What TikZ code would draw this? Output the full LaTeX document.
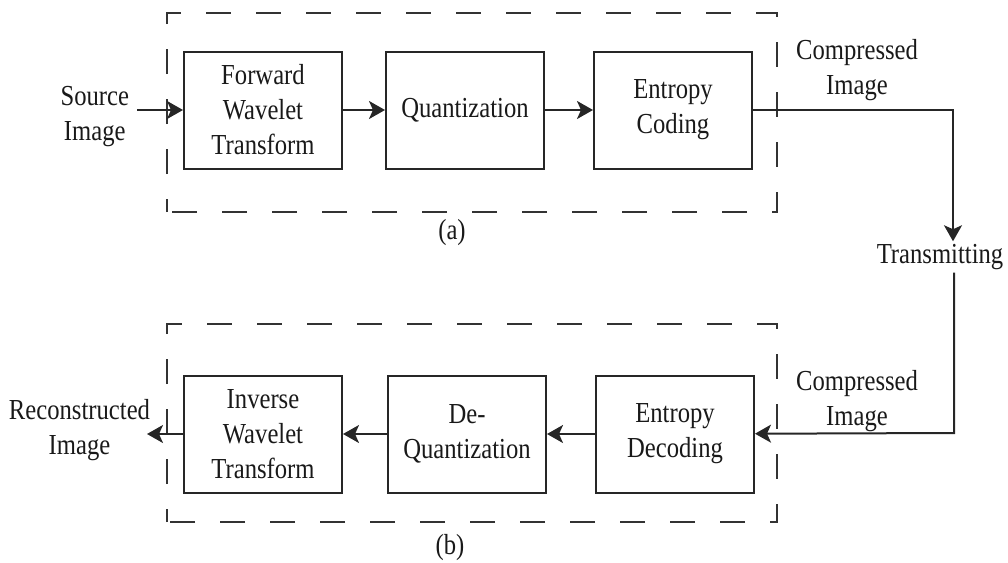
\documentclass[tikz,border=0pt]{standalone}
\usepackage{fontspec}
\setmainfont{Liberation Serif}[FakeStretch=0.85]
\usetikzlibrary{positioning}
\usetikzlibrary{arrows.meta}

\begin{document}
\begin{tikzpicture}[x=1pt,y=-1pt,>={Stealth[length=16pt,width=18pt,inset=4pt]},
		line width=2pt,draw=black!85,
		block/.style={rectangle,draw=black!85,minimum width=158pt,minimum height=117pt,
			inner sep=3pt,align=center,text=black!90,font=\fontsize{29}{35}\selectfont},
		txt node/.style={align=center,inner sep=2pt,text=black!90,font=\fontsize{29}{35}\selectfont},
		group box/.style={draw=black!80,line width=2.5pt,dash pattern=on 25pt off 25pt,dash phase=12pt}]

	\useasboundingbox (0,0) rectangle (1008,562);

	% dashed groups
	\draw[group box] (167,212) rectangle (777,13);
	\draw[group box] (167,522) rectangle (777,324);

	% (a) compression
	\node[block] (fwt) at (263,110) {Forward\\Wavelet\\Transform};
	\node[block] (qnt) [right=42pt of fwt] {Quantization};
	\node[block] (enc) [right=48pt of qnt] {Entropy\\Coding};

	% (b) decompression
	\node[block] (inv) [below=205pt of fwt] {Inverse\\Wavelet\\Transform};
	\node[block] (deq) [right=44pt of inv] {De-\\Quantization};
	\node[block] (dec) [right=48pt of deq] {Entropy\\Decoding};

	% outside texts
	\node[txt node] (src) [left=51pt of fwt,yshift=-7pt] {Source\\Image};
	\node[txt node] (rec) [left=30pt of inv,yshift=4pt] {Reconstructed\\Image};
	\node[txt node] (cmp top) at (857,70) {Compressed\\Image};
	\node[txt node] (trn) at (940,257) {Transmitting};
	\node[txt node] (cmp bot) at (857,401) {Compressed\\Image};
	\node[txt node] (lbl a) at (452,233) {(a)};
	\node[txt node] (lbl b) at (450,548) {(b)};

	\coordinate[right=200pt of enc.east] (turn1);
	\coordinate (turn2) at (954,433);

	\draw[->] ([xshift=5pt]src.east |- fwt.west) -- (fwt);
	\path[->]
	(fwt) edge (qnt)
	(qnt) edge (enc);
	\draw[->] (enc) -- (turn1) -- (turn1 |- trn.north);
	\draw[->] (turn2 |- trn.south) -- (turn2) -- (dec);
	\path[->]
	(dec) edge (deq)
	(deq) edge (inv)
	(inv) edge ([xshift=-6pt]rec.east |- inv.west);
\end{tikzpicture}
\end{document}
